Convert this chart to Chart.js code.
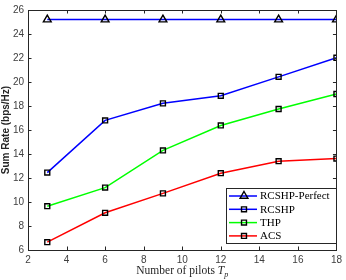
<!DOCTYPE html>
<html><head><meta charset="utf-8">
<script src="https://cdn.jsdelivr.net/npm/chart.js@4/dist/chart.umd.min.js"></script>
<style>html,body{margin:0;padding:0;background:#fff}#w{width:346px;height:280px}</style>
</head><body><div id="w"><canvas id="c" width="346" height="280"></canvas></div>
<script>
const pilots = [3, 6, 9, 12, 15, 18];
const rcshpPerfect = [25.2, 25.2, 25.2, 25.2, 25.2, 25.2];
const rcshp = [12.45, 16.8, 18.22, 18.85, 20.43, 22.02];
const thp = [9.65, 11.2, 14.3, 16.38, 17.75, 19.0];
const acs = [6.65, 9.1, 10.72, 12.4, 13.4, 13.62];
const seriesNames = ['RCSHP-Perfect', 'RCSHP', 'THP', 'ACS'];
const xTicks = [2, 4, 6, 8, 10, 12, 14, 16, 18];
const yTicks = [6, 8, 10, 12, 14, 16, 18, 20, 22, 24, 26];
const xTitle = 'Number of pilots ';
const xTitleVar = 'T';
const xTitleSub = 'p';
const yTitle = 'Sum Rate (bps/Hz)';

const colors = ['#0000ff', '#0000ff', '#00ff00', '#ff0000'];
const styles = ['triangle', 'rect', 'rect', 'rect'];
const seriesData = [rcshpPerfect, rcshp, thp, acs];

const datasets = seriesData.map((arr, i) => ({
  label: seriesNames[i],
  data: pilots.map((x, j) => ({x: x, y: arr[j]})),
  borderColor: colors[i],
  backgroundColor: colors[i],
  borderWidth: 1.5,
  pointStyle: styles[i],
  pointRadius: styles[i] === 'triangle' ? 4.5 : 3.5,
  pointBorderColor: '#000',
  pointBackgroundColor: 'rgba(0,0,0,0)',
  pointBorderWidth: 1.4,
  tension: 0
}));

const frame = {
  id: 'frame',
  afterDraw(chart) {
    const ctx = chart.ctx, a = chart.chartArea;
    const xs = chart.scales.x, ys = chart.scales.y;
    ctx.save();
    ctx.strokeStyle = '#262626';
    ctx.lineWidth = 1;
    ctx.strokeRect(Math.round(a.left) + 0.5, Math.round(a.top) + 0.5, Math.round(a.right - a.left), Math.round(a.bottom - a.top));
    const tl = 3.5;
    ctx.beginPath();
    xTicks.forEach(v => {
      const p = Math.round(xs.getPixelForValue(v)) + 0.5;
      ctx.moveTo(p, a.bottom); ctx.lineTo(p, a.bottom - tl);
      ctx.moveTo(p, a.top); ctx.lineTo(p, a.top + tl);
    });
    yTicks.forEach(v => {
      const p = Math.round(ys.getPixelForValue(v)) + 0.5;
      ctx.moveTo(a.left, p); ctx.lineTo(a.left + tl, p);
      ctx.moveTo(a.right, p); ctx.lineTo(a.right - tl, p);
    });
    ctx.stroke();

    // axis titles
    ctx.fillStyle = '#262626';
    ctx.font = '11.5px "Liberation Serif", serif';
    const w1 = ctx.measureText(xTitle).width;
    ctx.font = 'italic 11.5px "Liberation Serif", serif';
    const w2 = ctx.measureText(xTitleVar).width;
    ctx.font = 'italic 8px "Liberation Serif", serif';
    const w3 = ctx.measureText(xTitleSub).width;
    const cx = (a.left + a.right) / 2;
    let sx = cx - (w1 + w2 + w3) / 2;
    const by = 274;
    ctx.textBaseline = 'alphabetic';
    ctx.textAlign = 'left';
    ctx.font = '11.5px "Liberation Serif", serif';
    ctx.fillText(xTitle, sx, by);
    ctx.font = 'italic 11.5px "Liberation Serif", serif';
    ctx.fillText(xTitleVar, sx + w1, by);
    ctx.font = 'italic 8px "Liberation Serif", serif';
    ctx.fillText(xTitleSub, sx + w1 + w2, by + 2.5);

    ctx.save();
    ctx.translate(6, (a.top + a.bottom) / 2);
    ctx.rotate(-Math.PI / 2);
    ctx.textAlign = 'center';
    ctx.textBaseline = 'middle';
    ctx.font = 'bold 10px "Liberation Sans", Arial, sans-serif';
    ctx.fillText(yTitle, 0, 0);
    ctx.restore();

    // legend
    const lx = 226, ly = 188, lw = 110, lh = 55;
    ctx.fillStyle = '#fff';
    ctx.fillRect(lx, ly, lw, lh);
    ctx.strokeStyle = '#262626';
    ctx.lineWidth = 1;
    ctx.strokeRect(lx + 0.5, ly + 0.5, lw, lh);
    chart.data.datasets.forEach((ds, i) => {
      const y = 196 + i * 13.3;
      ctx.strokeStyle = ds.borderColor;
      ctx.lineWidth = 1.5;
      ctx.beginPath(); ctx.moveTo(229, y); ctx.lineTo(257, y); ctx.stroke();
      ctx.strokeStyle = '#000';
      ctx.fillStyle = 'rgba(0,0,0,0)';
      ctx.lineWidth = 1.4;
      Chart.helpers.drawPoint(ctx, {pointStyle: ds.pointStyle, radius: ds.pointRadius, borderWidth: 1.4}, 244, y);
      ctx.fillStyle = '#000';
      ctx.font = '11px "Liberation Serif", serif';
      ctx.textAlign = 'left';
      ctx.textBaseline = 'middle';
      ctx.fillText(ds.label, 260, y + 0.5);
    });
    ctx.restore();
  }
};

new Chart(document.getElementById('c'), {
  type: 'line',
  data: {datasets: datasets},
  options: {
    responsive: false,
    animation: false,
    events: [],
    layout: {padding: {top: 5, right: 7, left: 0, bottom: 0}},
    plugins: {legend: {display: false}, tooltip: {enabled: false}},
    scales: {
      x: {
        type: 'linear', min: 2, max: 18,
        afterBuildTicks: s => { s.ticks = xTicks.map(v => ({value: v})); },
        afterFit: s => { s.height = 30; },
        grid: {display: false, drawTicks: false},
        border: {display: false},
        ticks: {color: '#404040', font: {size: 10, family: '"Liberation Sans", Arial, sans-serif'}, padding: 4, maxRotation: 0}
      },
      y: {
        type: 'linear', min: 6, max: 26,
        afterBuildTicks: s => { s.ticks = yTicks.map(v => ({value: v})); },
        afterFit: s => { s.width = 28; },
        grid: {display: false, drawTicks: false},
        border: {display: false},
        ticks: {color: '#404040', font: {size: 10, family: '"Liberation Sans", Arial, sans-serif'}, padding: 4}
      }
    }
  },
  plugins: [frame]
});
</script>
</body></html>
